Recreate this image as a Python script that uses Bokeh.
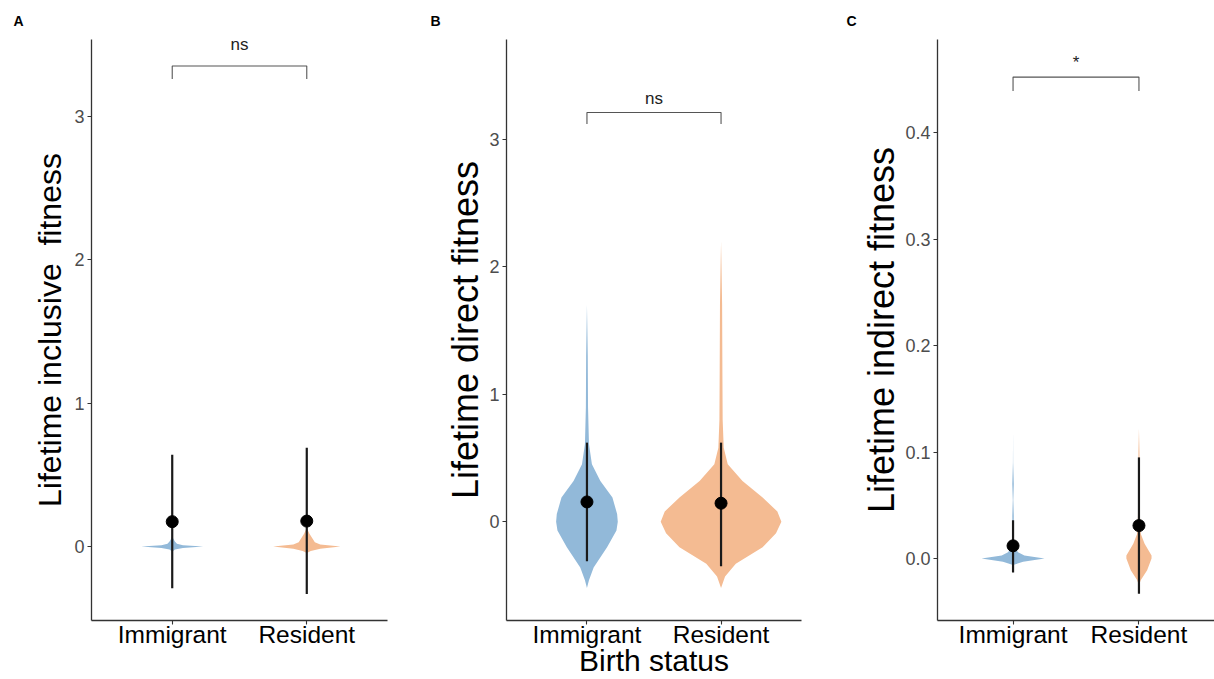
from bokeh.plotting import figure
from bokeh.layouts import row
from bokeh.models import Range1d, FixedTicker
from bokeh.core.properties import value
from bokeh.embed import file_html
from bokeh.resources import INLINE

FONT = "Liberation Sans"
BLUE = "#92B9D9"
ORANGE = "#F4BB92"

categories = ["Immigrant", "Resident"]
cat_pos = [1, 2]

# ---------- Panel A: lifetime inclusive fitness ----------
a_imm_y = [-0.035, -0.02, -0.01, 0.0, 0.01, 0.02, 0.035, 0.055, 0.075]
a_imm_w = [0.0, 0.02, 0.08, 0.23, 0.08, 0.035, 0.02, 0.008, 0.0]
a_res_y = [-0.045, -0.03, -0.015, 0.0, 0.015, 0.03, 0.06, 0.09, 0.13]
a_res_w = [0.0, 0.03, 0.10, 0.25, 0.10, 0.06, 0.04, 0.02, 0.0]
a_mean = [0.174, 0.178]
a_lo = [-0.29, -0.33]
a_hi = [0.64, 0.69]
a_bracket = (3.26, 3.35, 3.50, "ns")
a_yticks = [0, 1, 2, 3]
a_ylabels = ["0", "1", "2", "3"]
a_yrange = (-0.515, 3.535)

# ---------- Panel B: lifetime direct fitness ----------
b_imm_y = [-0.52, -0.46, -0.36, -0.2, -0.07, 0.0, 0.06, 0.19, 0.32, 0.45, 0.61, 0.9, 1.3, 1.7]
b_imm_w = [0.0, 0.015, 0.05, 0.15, 0.22, 0.23, 0.225, 0.19, 0.10, 0.037, 0.015, 0.008, 0.006, 0.0]
b_res_y = [-0.52, -0.43, -0.33, -0.2, -0.09, 0.0, 0.08, 0.19, 0.32, 0.45, 0.58, 0.8, 1.2, 1.7, 2.2]
b_res_w = [0.0, 0.03, 0.11, 0.31, 0.41, 0.45, 0.42, 0.31, 0.16, 0.05, 0.02, 0.012, 0.01, 0.008, 0.0]
b_mean = [0.155, 0.145]
b_lo = [-0.31, -0.35]
b_hi = [0.62, 0.62]
b_bracket = (3.12, 3.21, 3.32, "ns")
b_yticks = [0, 1, 2, 3]
b_ylabels = ["0", "1", "2", "3"]
b_yrange = (-0.775, 3.782)

# ---------- Panel C: lifetime indirect fitness ----------
c_imm_y = [-0.006, -0.003, 0.0, 0.003, 0.006, 0.01, 0.014, 0.02, 0.04, 0.055, 0.07, 0.09, 0.12]
c_imm_w = [0.0, 0.08, 0.25, 0.09, 0.04, 0.015, 0.006, 0.004, 0.006, 0.002, 0.006, 0.001, 0.0]
c_res_y = [-0.025, -0.02, -0.011, 0.0, 0.003, 0.014, 0.023, 0.04, 0.07, 0.1, 0.122]
c_res_w = [0.0, 0.015, 0.065, 0.10, 0.10, 0.045, 0.015, 0.008, 0.006, 0.004, 0.0]
c_mean = [0.012, 0.031]
c_lo = [-0.013, -0.033]
c_hi = [0.036, 0.095]
c_bracket = (0.439, 0.452, 0.466, "*")
c_yticks = [0.0, 0.1, 0.2, 0.3, 0.4]
c_ylabels = ["0.0", "0.1", "0.2", "0.3", "0.4"]
c_yrange = (-0.0581, 0.4873)

HEIGHT = 679
TOP = 38
BOTTOM = 59


def violin(p, center, ys, ws, color):
    xs = [center - w for w in ws] + [center + w for w in reversed(ws)]
    yy = list(ys) + list(reversed(ys))
    p.patch(x=xs, y=yy, fill_color=color, fill_alpha=1.0, line_color=None)


def panel(letter, letter_dx, ylabel, ylabel_size, ylabel_standoff, yrange, yticks, ylabels,
          viol, mean, lo, hi, bracket, width, left, right):
    p = figure(width=width, height=HEIGHT, output_backend="svg", toolbar_location=None,
               x_range=Range1d(0.4, 2.6), y_range=Range1d(*yrange),
               min_border_left=left, min_border_right=right,
               min_border_top=TOP, min_border_bottom=BOTTOM)
    p.outline_line_color = None
    p.xgrid.visible = False
    p.ygrid.visible = False
    p.background_fill_color = "white"
    p.border_fill_color = "white"

    p.title.text = letter
    p.title.align = "left"
    p.title.offset = letter_dx
    p.title.text_font = FONT
    p.title.text_font_size = "14px"
    p.title.text_font_style = "bold"
    p.title.text_color = "black"
    p.title.standoff = 21

    (iy, iw), (ry, rw) = viol
    violin(p, cat_pos[0], iy, iw, BLUE)
    violin(p, cat_pos[1], ry, rw, ORANGE)

    p.segment(x0=cat_pos, y0=lo, x1=cat_pos, y1=hi, line_color="#1a1a1a", line_width=2.2)
    p.scatter(x=cat_pos, y=mean, size=12, color="black")

    leg, top, ty, txt = bracket
    p.line(x=[cat_pos[0], cat_pos[0], cat_pos[1], cat_pos[1]], y=[leg, top, top, leg],
           line_color="#555555", line_width=1.1)
    p.text(x=[(cat_pos[0] + cat_pos[1]) / 2], y=[ty], text=[txt], text_align="center",
           text_baseline="middle", text_font=value(FONT), text_font_size="17px",
           text_color="#222222")

    for ax in (p.xaxis[0], p.yaxis[0]):
        ax.axis_line_color = "#333333"
        ax.axis_line_width = 1.3
        ax.major_tick_line_color = "#333333"
        ax.major_tick_line_width = 1.1
        ax.major_tick_in = 0
        ax.major_tick_out = 4
        ax.minor_tick_line_color = None
        ax.major_label_text_font = FONT

    p.xaxis.ticker = FixedTicker(ticks=cat_pos)
    p.xaxis.major_label_overrides = {c: n for c, n in zip(cat_pos, categories)}
    p.xaxis.major_label_text_font_size = "24.5px"
    p.xaxis.major_label_text_color = "black"
    p.xaxis.major_label_standoff = -4

    p.yaxis.ticker = FixedTicker(ticks=yticks)
    p.yaxis.major_label_overrides = {t: s for t, s in zip(yticks, ylabels)}
    p.yaxis.major_label_text_font_size = "18px"
    p.yaxis.major_label_text_color = "#4d4d4d"
    p.yaxis.major_label_standoff = 3
    p.yaxis.axis_label = ylabel
    p.yaxis.axis_label_text_font = FONT
    p.yaxis.axis_label_text_font_size = ylabel_size
    p.yaxis.axis_label_text_font_style = "normal"
    p.yaxis.axis_label_text_color = "black"
    p.yaxis.axis_label_standoff = ylabel_standoff
    return p


pA = panel("A", -78, "Lifetime inclusive\u00a0 fitness", "32px", 3, a_yrange, a_yticks, a_ylabels,
           ((a_imm_y, a_imm_w), (a_res_y, a_res_w)), a_mean, a_lo, a_hi, a_bracket,
           410, 91, 23)
pB = panel("B", -76, "Lifetime direct fitness", "36px", 0, b_yrange, b_yticks, b_ylabels,
           ((b_imm_y, b_imm_w), (b_res_y, b_res_w)), b_mean, b_lo, b_hi, b_bracket,
           420, 96, 29)
pC = panel("C", -91, "Lifetime indirect fitness", "36px", 0, c_yrange, c_yticks, c_ylabels,
           ((c_imm_y, c_imm_w), (c_res_y, c_res_w)), c_mean, c_lo, c_hi, c_bracket,
           384, 107, 0)

pB.xaxis.axis_label = "Birth status"
pB.xaxis.axis_label_text_font = FONT
pB.xaxis.axis_label_text_font_size = "30px"
pB.xaxis.axis_label_text_font_style = "normal"
pB.xaxis.axis_label_text_color = "black"
pB.xaxis.axis_label_standoff = -7

layout = row(pA, pB, pC, spacing=0)
open("out.html", "w").write(file_html(layout, INLINE))
